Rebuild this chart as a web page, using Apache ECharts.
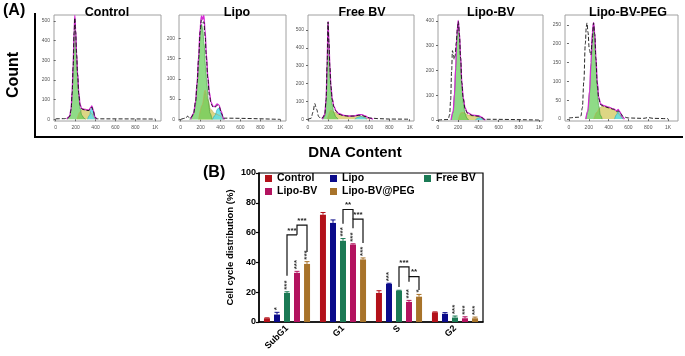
<!DOCTYPE html>
<html>
<head>
<meta charset="utf-8">
<script src="https://cdn.jsdelivr.net/npm/echarts@6/dist/echarts.min.js"></script>
<style>
  html, body { margin: 0; padding: 0; background: #fff; }
  #chart { width: 685px; height: 356px; }
</style>
</head>
<body>
<div id="chart"></div>
<script>
// ---- panel A : DNA content histograms (x, count) ----
const histTitles = ['Control', 'Lipo', 'Free BV', 'Lipo-BV', 'Lipo-BV-PEG'];
const histXTicks = [0, 200, 400, 600, 800, 1000];
const histYTicks = [
  [0, 100, 200, 300, 400, 500],
  [0, 50, 100, 150, 200],
  [0, 100, 200, 300, 400, 500],
  [0, 100, 200, 300, 400],
  [0, 50, 100, 150, 200, 250]
];

const ctrlG1 = [[120,0],[140,12],[155,50],[165,130],[175,260],[185,430],[192,500],[200,440],[210,320],[220,220],[232,120],[245,55],[262,20],[285,5],[300,0]];
const ctrlS = [[215,0],[240,35],[265,50],[300,52],[330,45],[360,30],[385,8],[400,0]];
const ctrlG2 = [[320,0],[340,20],[355,50],[365,58],[378,35],[395,5],[405,0]];
const ctrlFit = [[110,0],[140,15],[155,55],[165,140],[175,275],[185,450],[192,528],[200,455],[210,335],[220,235],[232,135],[245,75],[260,55],[285,50],[310,48],[335,48],[352,60],[363,68],[378,45],[395,10],[410,0]];
const ctrlRaw = [[0,2],[90,3],[120,6],[140,15],[155,50],[165,130],[175,265],[185,440],[192,515],[200,445],[210,325],[220,225],[232,125],[245,70],[260,52],[285,48],[310,45],[335,44],[350,56],[362,62],[378,40],[395,8],[420,2],[1000,1]];

const lipoG1 = [[90,0],[120,8],[145,30],[165,80],[180,140],[195,205],[208,235],[220,225],[235,185],[250,130],[262,90],[278,45],[295,15],[315,0]];
const lipoS = [[180,0],[215,35],[245,72],[270,50],[300,25],[340,15],[390,10],[425,0]];
const lipoG2 = [[320,0],[345,10],[368,25],[385,28],[405,15],[430,0]];
const lipoFit = [[100,0],[130,15],[150,45],[165,92],[180,155],[195,225],[208,255],[220,246],[232,256],[245,220],[258,160],[272,108],[288,66],[305,42],[325,32],[345,32],[365,38],[385,35],[405,20],[430,2],[440,0]];
const lipoRaw = [[0,0],[50,3],[70,8],[90,3],[110,6],[130,15],[150,45],[165,90],[180,150],[195,215],[208,245],[220,238],[232,240],[245,205],[258,150],[272,100],[288,60],[305,38],[325,30],[345,30],[368,35],[388,30],[410,14],[430,3],[1000,0]];

const fbvG1 = [[150,0],[165,20],[178,100],[188,300],[197,540],[206,420],[215,280],[225,160],[238,80],[255,35],[275,12],[295,0]];
const fbvS = [[190,0],[225,50],[260,40],[300,28],[350,20],[400,16],[450,16],[500,18],[540,15],[580,6],[610,0]];
const fbvG2 = [[460,0],[490,10],[520,15],[550,10],[580,0]];
const fbvFit = [[140,0],[165,25],[178,110],[188,310],[197,548],[206,430],[215,300],[225,190],[238,115],[255,72],[275,48],[300,32],[350,22],[400,18],[450,18],[500,25],[530,26],[560,18],[600,6],[640,0]];
const fbvRaw = [[0,0],[30,5],[50,40],[66,88],[85,55],[105,15],[125,5],[150,10],[165,30],[178,110],[188,305],[197,545],[206,425],[215,295],[225,185],[238,110],[255,68],[275,45],[300,28],[350,20],[400,17],[450,18],[500,22],[530,22],[560,15],[620,6],[700,3],[800,1],[1000,0]];

const lbvG1 = [[130,0],[150,30],[163,100],[175,200],[187,330],[200,395],[212,340],[224,240],[236,140],[250,70],[268,25],[290,5],[305,0]];
const lbvS = [[200,0],[230,30],[260,30],[300,20],[350,15],[400,14],[430,8],[450,0]];
const lbvG2 = [[370,0],[400,8],[425,10],[450,3],[460,0]];
const lbvFit = [[130,0],[150,35],[163,105],[175,210],[187,340],[200,402],[212,350],[224,255],[236,155],[250,90],[268,50],[290,30],[340,20],[400,18],[430,12],[460,2],[470,0]];
const lbvRaw = [[0,0],[100,2],[115,20],[125,80],[135,200],[143,280],[152,265],[160,245],[170,260],[180,310],[192,370],[202,398],[212,345],[224,250],[236,150],[250,85],[268,45],[290,28],[340,18],[400,15],[430,10],[460,3],[1000,0]];

const pegG1 = [[170,0],[190,20],[208,70],[222,140],[236,220],[248,250],[260,220],[272,150],[285,85],[300,35],[318,10],[335,0]];
const pegS = [[250,0],[280,18],[310,30],[340,35],[400,30],[450,25],[490,18],[520,8],[545,0]];
const pegG2 = [[460,0],[480,12],[497,20],[515,12],[545,0]];
const pegFit = [[170,0],[190,22],[208,75],[222,150],[236,230],[248,256],[260,228],[272,165],[285,100],[300,58],[320,40],[350,36],[400,32],[450,27],[483,22],[497,26],[512,20],[540,6],[560,0]];
const pegRaw = [[0,3],[100,5],[120,8],[135,30],[150,100],[165,200],[175,245],[182,255],[192,230],[205,185],[220,170],[234,205],[248,255],[260,225],[272,160],[285,95],[300,55],[320,38],[350,34],[400,30],[450,26],[485,20],[497,22],[520,15],[550,6],[600,3],[750,2],[800,4],[850,2],[1000,1]];

// ---- panel B : cell cycle distribution (%) ----
const phases = ['SubG1', 'G1', 'S', 'G2'];
const groups = ['Control', 'Lipo', 'Free BV', 'Lipo-BV', 'Lipo-BV@PEG'];
const control = [2.5, 72, 19.5, 6.5];
const lipo = [5, 66.5, 25.5, 5.5];
const freeBV = [19.5, 54.5, 21, 3];
const lipoBV = [33, 52, 13.5, 2.5];
const lipoBVPEG = [39, 42, 17, 2.5];
const controlErr = [0.3, 1.5, 1.5, 0.3];
const lipoErr = [1.5, 2, 0.5, 0.8];
const freeBVErr = [0.8, 1.5, 0.3, 1];
const lipoBVErr = [1, 0.5, 1, 1];
const lipoBVPEGErr = [1.5, 1, 1.5, 0.8];
const controlSig = ['', '', '', ''];
const lipoSig = ['*', '', '***', ''];
const freeBVSig = ['***', '***', '', '***'];
const lipoBVSig = ['***', '***', '***', '***'];
const lipoBVPEGSig = ['***', '***', '*', '***'];

// comparison brackets: phase, group from, group to, level, leg ends, label
const bracketPhase = [0, 0, 1, 1, 2, 2];
const bracketFrom = [2, 3, 2, 3, 2, 3];
const bracketTo = [3, 4, 3, 4, 3, 4];
const bracketTop = [58.5, 65, 75.5, 69, 37, 30.5];
const bracketLeftEnd = [31, 58.5, 66, 63, 23.5, 27];
const bracketRightEnd = [58.5, 47, 69, 53, 30.5, 21.5];
const bracketLabel = ['***', '***', '**', '***', '***', '**'];

const FONT = '"Liberation Sans", Arial, sans-serif';
const histBoxes = [[54, 15, 107, 106], [179, 15, 107, 106], [308, 15, 106, 106], [438, 15, 105, 106], [565, 15, 113, 106]];
const histTitleX = [102, 232, 357, 486, 623];
const histXMin = [-17, -17, 0, 0, -40];
const histXMax = [1057, 1057, 1042, 1040, 1100];
const histYMin = [-9, -4, -10, -4, -5];
const histYMax = [530, 257, 584, 424, 276];
const histCurves = [
  [ctrlS, ctrlG2, ctrlG1, ctrlFit, ctrlRaw],
  [lipoS, lipoG2, lipoG1, lipoFit, lipoRaw],
  [fbvS, fbvG2, fbvG1, fbvFit, fbvRaw],
  [lbvS, lbvG2, lbvG1, lbvFit, lbvRaw],
  [pegS, pegG2, pegG1, pegFit, pegRaw]
];
const groupColors = ['#b3111a', '#0b0b8a', '#1b7a55', '#b3135f', '#a8732a'];
const groupValues = [control, lipo, freeBV, lipoBV, lipoBVPEG];
const groupErrs = [controlErr, lipoErr, freeBVErr, lipoBVErr, lipoBVPEGErr];
const groupSigs = [controlSig, lipoSig, freeBVSig, lipoBVSig, lipoBVPEGSig];
const BAR_W = 6, BAR_PITCH = 10;

const chart = echarts.init(document.getElementById('chart'));

const grids = [], xAxes = [], yAxes = [], series = [], titles = [];
histBoxes.forEach((b, i) => {
  grids.push({ left: b[0], top: b[1], width: b[2], height: b[3], show: true, borderColor: '#a0a0a0', borderWidth: 1 });
  titles.push({
    text: histTitles[i], left: histTitleX[i], top: 1, textAlign: 'center',
    textStyle: { fontFamily: FONT, fontWeight: 'bold', fontSize: 12.5, color: '#000' }
  });
  xAxes.push({
    type: 'value', gridIndex: i, min: histXMin[i], max: histXMax[i],
    splitLine: { show: false },
    axisLine: { show: false },
    axisTick: { customValues: histXTicks, length: 2, lineStyle: { color: '#666' } },
    axisLabel: {
      customValues: histXTicks, fontSize: 5, color: '#555', margin: 4,
      formatter: v => (v === 1000 ? '1K' : String(v))
    }
  });
  yAxes.push({
    type: 'value', gridIndex: i, min: histYMin[i], max: histYMax[i],
    splitLine: { show: false },
    axisLine: { show: false },
    axisTick: { customValues: histYTicks[i], length: 2, lineStyle: { color: '#666' } },
    axisLabel: { customValues: histYTicks[i], fontSize: 5, color: '#555', margin: 4 }
  });
  const [s, g2, g1, fit, raw] = histCurves[i];
  const common = { xAxisIndex: i, yAxisIndex: i, type: 'line', showSymbol: false, smooth: 0.35, smoothMonotone: 'x', silent: true };
  series.push(Object.assign({}, common, {
    data: s, lineStyle: { color: '#b9ad55', width: 0.6 }, areaStyle: { color: '#ddd684', opacity: 1 }
  }));
  series.push(Object.assign({}, common, {
    data: g2, lineStyle: { color: '#2aa9b5', width: 0.6 }, areaStyle: { color: 'rgba(90,222,232,0.85)', opacity: 1 }
  }));
  series.push(Object.assign({}, common, {
    data: g1, lineStyle: { color: '#3a9a3a', width: 0.6 }, areaStyle: { color: 'rgba(96,204,84,0.7)', opacity: 1 }
  }));
  series.push(Object.assign({}, common, {
    data: fit, lineStyle: { color: '#d52cd5', width: 1.3 }
  }));
  series.push(Object.assign({}, common, {
    data: raw, lineStyle: { color: '#111', width: 0.9, type: [4, 2] }
  }));
});

// bar chart grid
const BG = histBoxes.length;
grids.push({ left: 259, top: 173, width: 224, height: 149, show: true, borderColor: '#000', borderWidth: 1.2 });
xAxes.push({
  type: 'category', gridIndex: BG, data: phases,
  axisLine: { lineStyle: { color: '#000', width: 1.5 } },
  axisTick: { alignWithLabel: true, length: 3, lineStyle: { color: '#000', width: 1.2 } },
  axisLabel: { rotate: 45, fontFamily: FONT, fontWeight: 'bold', fontSize: 9, color: '#000', margin: 5 }
});
yAxes.push({
  type: 'value', gridIndex: BG, min: 0, max: 100, interval: 20,
  name: 'Cell cycle distribution (%)', nameLocation: 'middle', nameGap: 24,
  nameTextStyle: { fontFamily: FONT, fontWeight: 'bold', fontSize: 9.5, color: '#000' },
  splitLine: { show: false },
  axisLine: { show: true, lineStyle: { color: '#000', width: 1.5 } },
  axisTick: { show: true, length: 3, lineStyle: { color: '#000', width: 1.2 } },
  axisLabel: { fontFamily: FONT, fontWeight: 'bold', fontSize: 9, color: '#000', margin: 3 }
});

groups.forEach((g, k) => {
  series.push({
    name: g, type: 'bar', xAxisIndex: BG, yAxisIndex: BG,
    data: groupValues[k], barWidth: BAR_W, barGap: '67%',
    itemStyle: { color: groupColors[k] }
  });
});

// error bars and significance stars
const barItems = [];
groups.forEach((g, k) => {
  phases.forEach((p, c) => {
    barItems.push({ c, k, v: groupValues[k][c], e: groupErrs[k][c], sig: groupSigs[k][c] });
  });
});
series.push({
  type: 'custom', xAxisIndex: BG, yAxisIndex: BG, silent: true, z: 5,
  data: barItems.map(it => [it.c, it.v + it.e]),
  renderItem: (params, api) => {
    const it = barItems[params.dataIndex];
    const base = api.coord([it.c, it.v]);
    const top = api.coord([it.c, it.v + it.e]);
    const x = base[0] + (it.k - 2) * BAR_PITCH;
    const col = groupColors[it.k];
    const kids = [
      { type: 'line', shape: { x1: x, y1: base[1], x2: x, y2: top[1] }, style: { stroke: col, lineWidth: 1 } },
      { type: 'line', shape: { x1: x - 2.5, y1: top[1], x2: x + 2.5, y2: top[1] }, style: { stroke: col, lineWidth: 1 } }
    ];
    if (it.sig) {
      kids.push({
        type: 'text', x: x, y: top[1] - 2, rotation: Math.PI / 2,
        style: {
          text: it.sig, font: 'bold 8px ' + FONT, fill: '#333',
          align: 'left', verticalAlign: 'middle', textAlign: 'left', textVerticalAlign: 'middle'
        }
      });
    }
    return { type: 'group', children: kids };
  }
});

// comparison brackets
series.push({
  type: 'custom', xAxisIndex: BG, yAxisIndex: BG, silent: true, z: 6,
  data: bracketPhase.map((c, i) => [c, bracketTop[i]]),
  renderItem: (params, api) => {
    const i = params.dataIndex;
    const c = bracketPhase[i];
    const cx = api.coord([c, 0])[0];
    const x1 = cx + (bracketFrom[i] - 2) * BAR_PITCH;
    const x2 = cx + (bracketTo[i] - 2) * BAR_PITCH;
    const yt = api.coord([c, bracketTop[i]])[1];
    const y1 = api.coord([c, bracketLeftEnd[i]])[1];
    const y2 = api.coord([c, bracketRightEnd[i]])[1];
    return {
      type: 'group', children: [
        { type: 'polyline', shape: { points: [[x1, y1], [x1, yt], [x2, yt], [x2, y2]] }, style: { stroke: '#111', lineWidth: 1.2, fill: null } },
        {
          type: 'text', x: (x1 + x2) / 2, y: yt - 0.5,
          style: { text: bracketLabel[i], font: 'bold 8px ' + FONT, fill: '#222', align: 'center', verticalAlign: 'bottom', textAlign: 'center', textVerticalAlign: 'bottom' }
        }
      ]
    };
  }
});

const legendText = { fontFamily: FONT, fontWeight: 'bold', fontSize: 10.5, color: '#000' };
const legendBase = { orient: 'vertical', icon: 'rect', itemWidth: 7, itemHeight: 7, itemGap: 2, padding: 0, textStyle: legendText, selectedMode: false, top: 173 };

const option = {
  animation: false,
  title: titles,
  grid: grids,
  xAxis: xAxes,
  yAxis: yAxes,
  legend: [
    Object.assign({}, legendBase, { left: 265, data: ['Control', 'Lipo-BV'] }),
    Object.assign({}, legendBase, { left: 330, data: ['Lipo', 'Lipo-BV@PEG'] }),
    Object.assign({}, legendBase, { left: 424, data: ['Free BV'] })
  ],
  graphic: [
    { type: 'text', left: 3, top: 3, style: { text: '(A)', font: 'bold 16px ' + FONT, fill: '#000' } },
    { type: 'text', x: 14, y: 75, rotation: Math.PI / 2, style: { text: 'Count', font: 'bold 16px ' + FONT, fill: '#000', align: 'center', verticalAlign: 'middle', textAlign: 'center', textVerticalAlign: 'middle' } },
    { type: 'text', x: 355, y: 153, style: { text: 'DNA Content', font: 'bold 15px ' + FONT, fill: '#000', align: 'center', verticalAlign: 'middle', textAlign: 'center', textVerticalAlign: 'middle' } },
    { type: 'text', left: 203, top: 165, style: { text: '(B)', font: 'bold 16px ' + FONT, fill: '#000' } },
    { type: 'polyline', shape: { points: [[35, 13], [35, 137], [683, 137]] }, style: { stroke: '#000', lineWidth: 2, fill: null } }
  ],
  series: series
};

chart.setOption(option);
</script>
</body>
</html>
